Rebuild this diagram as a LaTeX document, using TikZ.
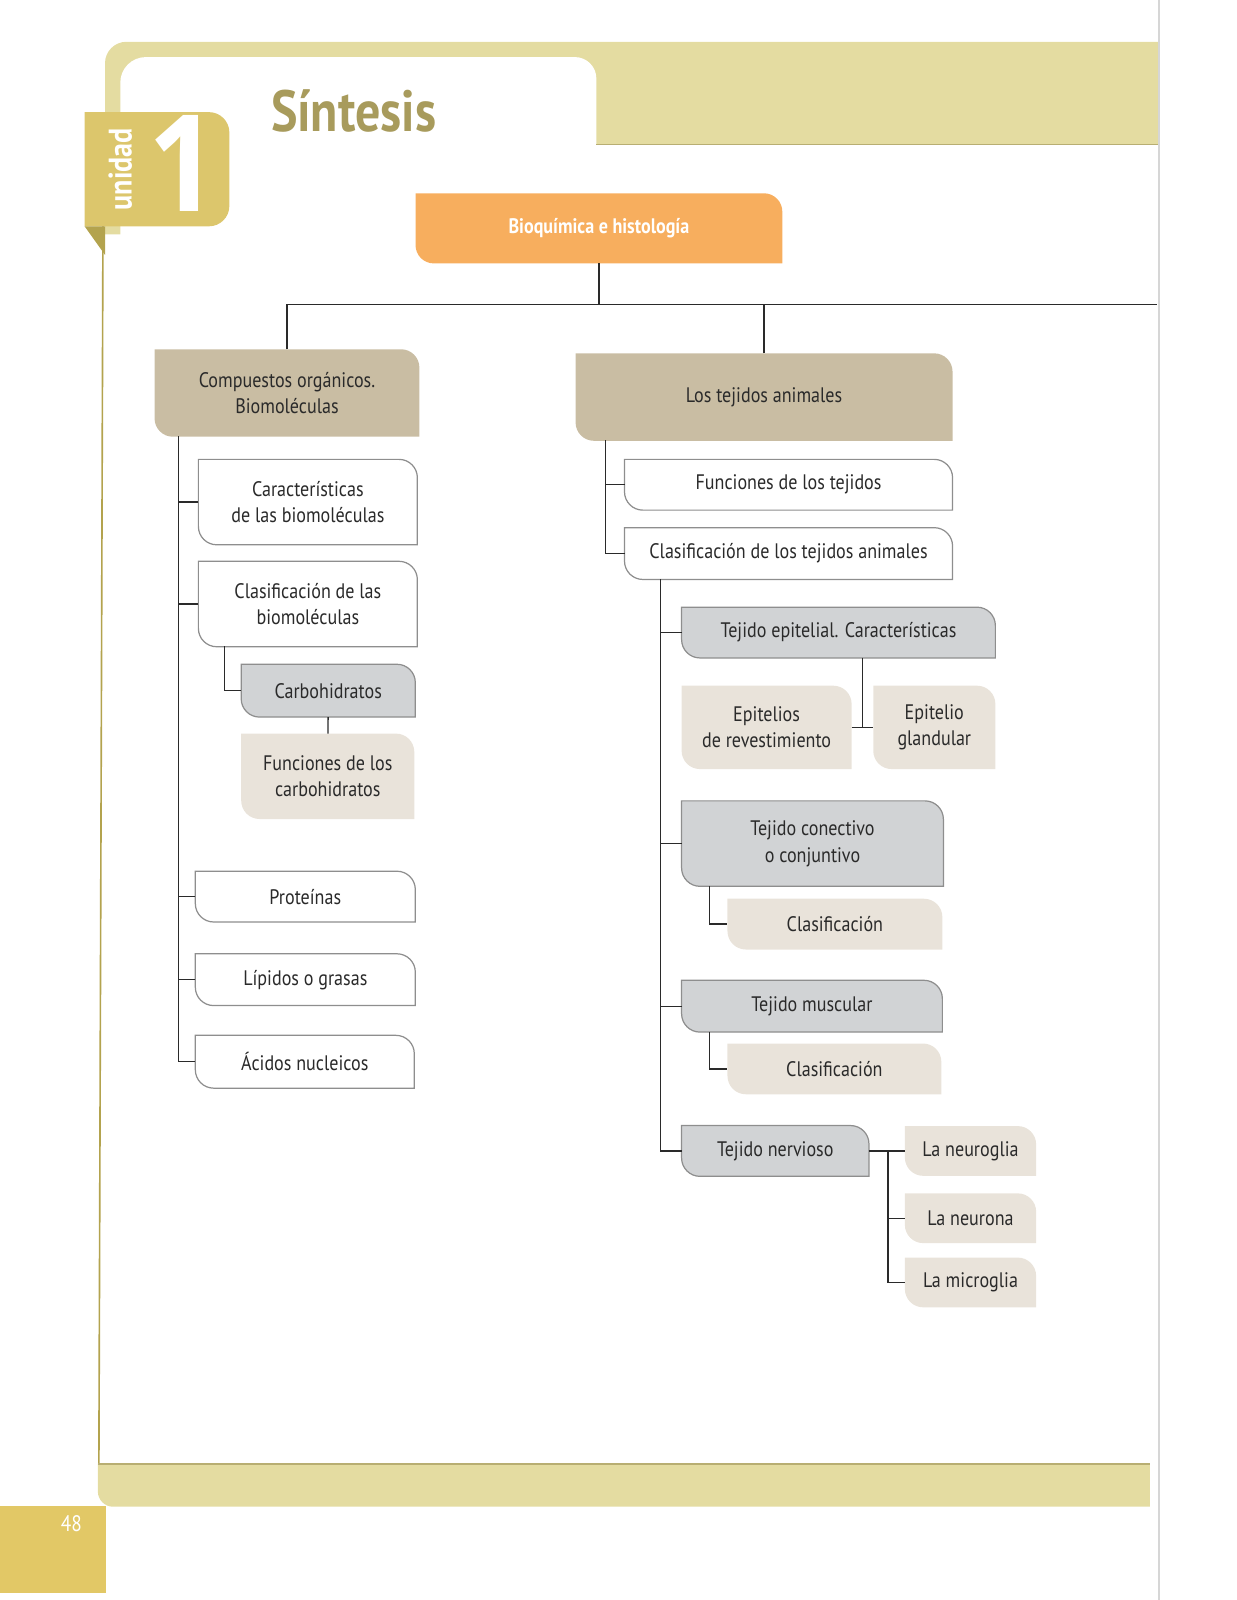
\documentclass[tikz,border=0pt]{standalone}
\usepackage{fontspec}
\setmainfont{PT Sans}[FakeStretch=0.86]
\newfontfamily\numfont{Open Sans}[FakeStretch=0.9]
\usetikzlibrary{backgrounds}

\definecolor{tanfill}{HTML}{C9BDA3}
\definecolor{greyfill}{HTML}{D1D3D5}
\definecolor{beigefill}{HTML}{E9E3DA}
\definecolor{orangefill}{HTML}{F7AE5E}
\definecolor{bandfill}{HTML}{E4DCA1}
\definecolor{bandline}{HTML}{B8AE72}
\definecolor{tabfill}{HTML}{DCC66C}
\definecolor{pagefill}{HTML}{E2C866}
\definecolor{olivetext}{HTML}{A89B5C}
\definecolor{olivedark}{HTML}{B3A34E}
\definecolor{inkgray}{HTML}{2A2A2A}
\definecolor{edgegray}{HTML}{8E8E8E}
\definecolor{pageedge}{HTML}{D6D6D6}

\tikzstyle{item} = [align=center, inner sep=0pt, text=inkgray, font=\fontsize{10.3}{13}\selectfont]
\tikzstyle{link} = [draw=inkgray, line width=0.65pt]
\tikzstyle{outline} = [draw=edgegray, line width=0.6pt]
\tikzset{leaf/.style={insert path={(#1.north west) -- ([xshift=-9pt]#1.north east) arc[start angle=90,end angle=0,radius=9pt] -- (#1.south east) -- ([xshift=9pt]#1.south west) arc[start angle=270,end angle=180,radius=9pt] -- cycle}}}

\begin{document}
\begin{tikzpicture}[x=0.5pt, y=-0.5pt]
	\useasboundingbox (0,0) rectangle (1212.5,1569.5);

	% page frame
	\fill[bandfill] (103,230) -- (103,62) arc[start angle=180,end angle=90,radius=10.5pt] -- (1137,41) -- (1137,142) -- (118,142) -- (118,230) -- cycle;
	\fill[white] (118,142) -- (118,81) arc[start angle=180,end angle=90,radius=12.5pt] -- (564,56) arc[start angle=90,end angle=0,radius=10.5pt] -- (585,142) -- cycle;
	\draw[bandline, line width=0.6pt] (585,142) -- (1137,142);
	\fill[tabfill] (83,110) -- (205,110) arc[start angle=90,end angle=0,radius=10pt] -- (225,202) arc[start angle=0,end angle=-90,radius=10pt] -- (83,222) -- cycle;
	\fill[olivedark] (83,222) -- (103,222) -- (103,250) -- cycle;
	\draw[olivedark, line width=0.8pt] (101,222) -- (97,1437);
	\fill[bandfill] (96,1436) -- (1128,1436) -- (1128,1478) -- (111,1478) arc[start angle=270,end angle=180,radius=7.5pt] -- cycle;
	\draw[bandline, line width=0.6pt] (96,1436) -- (1128,1436);
	\fill[pagefill] (0,1477) rectangle (104,1563);
	\draw[pageedge, line width=0.8pt] (1137,0) -- (1137,1569.5);

	\node[text=white, font=\bfseries\fontsize{16}{16}\selectfont, rotate=90] (unidad) at (118,166) {unidad};
	\node[text=white, font=\numfont\bfseries\fontsize{66}{66}\selectfont] (num) at (180,160) {1};
	\node[text=olivetext, font=\bfseries\fontsize{28.5}{28.5}\selectfont] (title) at (347,109) {Síntesis};
	\node[text=white, font=\fontsize{11}{11}\selectfont] (pagenum) at (70,1495) {48};

	% root
	\node[item, text=white, font=\bfseries\fontsize{10.3}{13}\selectfont, minimum width=179.5pt, minimum height=34pt] (root) at (587.5,224) {Bioquímica e histología};
	\coordinate (busend) at (1135,299);

	% left branch
	\node[item, minimum width=129.5pt, minimum height=42.5pt] (comp) at (281.5,385.5) {Compuestos orgánicos.\\Biomoléculas};
	\node[item, minimum width=107pt, minimum height=41.5pt] (carac) at (302,492.5) {Características\\de las biomoléculas};
	\node[item, minimum width=107pt, minimum height=41.5pt] (clasb) at (302,592.5) {Clasificación de las\\biomoléculas};
	\node[item, minimum width=85pt, minimum height=25.5pt] (carbo) at (322,677.5) {Carbohidratos};
	\node[item, minimum width=84.5pt, minimum height=41.5pt] (funcarb) at (321.5,761.5) {Funciones de los\\carbohidratos};
	\node[item, minimum width=107.5pt, minimum height=24.5pt] (prot) at (299.5,879.5) {Proteínas};
	\node[item, minimum width=107.5pt, minimum height=25pt] (lip) at (299.5,961) {Lípidos o grasas};
	\node[item, minimum width=107pt, minimum height=25.5pt] (acid) at (299,1041.5) {Ácidos nucleicos};

	% right branch
	\node[item, minimum width=184.5pt, minimum height=42.5pt] (tej) at (749.5,389.5) {Los tejidos animales};
	\node[item, minimum width=160.5pt, minimum height=24.5pt] (funtej) at (773.5,475.5) {Funciones de los tejidos};
	\node[item, minimum width=160.5pt, minimum height=25pt] (clastej) at (773.5,543) {Clasificación de los tejidos animales};
	\node[item, minimum width=153.5pt, minimum height=24.5pt] (epit) at (822.5,620.5) {Tejido epitelial. Características};
	\node[item, minimum width=83pt, minimum height=40.5pt] (revest) at (752,713.5) {Epitelios\\de revestimiento};
	\node[item, minimum width=59.5pt, minimum height=40.5pt] (glan) at (916.5,713.5) {Epitelio\\glandular};
	\node[item, minimum width=128pt, minimum height=41.5pt] (conect) at (797,827.5) {Tejido conectivo\\o conjuntivo};
	\node[item, minimum width=105pt, minimum height=24.5pt] (clasif1) at (819,906.5) {Clasificación};
	\node[item, minimum width=127.5pt, minimum height=25pt] (musc) at (796.5,987) {Tejido muscular};
	\node[item, minimum width=104.5pt, minimum height=24.5pt] (clasif2) at (818.5,1048.5) {Clasificación};
	\node[item, minimum width=91.5pt, minimum height=24.5pt] (nerv) at (760.5,1129) {Tejido nervioso};
	\node[item, minimum width=64pt, minimum height=24pt] (neuroglia) at (952,1129) {La neuroglia};
	\node[item, minimum width=64pt, minimum height=24pt] (neurona) at (952,1195) {La neurona};
	\node[item, minimum width=64pt, minimum height=24pt] (microglia) at (952,1258) {La microglia};

	% connectors
	\draw[link] (root.south) -- (root.south |- busend);
	\draw[link] (comp.north) |- (busend);
	\draw[link] (tej.north) -- (tej.north |- busend);

	\coordinate (ltrunk) at (175,428);
	\draw[link] (ltrunk) |- (acid.west);
	\foreach \n in {carac,clasb,prot,lip}
		\draw[link] (\n.west) -- (\n.west -| ltrunk);
	\coordinate (csplit) at (220,634);
	\draw[link] (csplit) |- (carbo.west);
	\draw[link] (carbo) -- (funcarb);

	\coordinate (rtrunk) at (594,432);
	\draw[link] (rtrunk) |- (clastej.west);
	\draw[link] (funtej.west) -- (funtej.west -| rtrunk);
	\coordinate (ctrunk) at (648,568);
	\draw[link] (ctrunk) |- (nerv.west);
	\foreach \n in {epit,conect,musc}
		\draw[link] (\n.west) -- (\n.west -| ctrunk);
	\coordinate (esplit) at (846,645);
	\draw[link] (esplit) -- (esplit |- revest.east);
	\draw[link] (revest) -- (glan);
	\coordinate (csub) at (696,869);
	\draw[link] (csub) |- (clasif1.west);
	\coordinate (msub) at (696,1012);
	\draw[link] (msub) |- (clasif2.west);
	\draw[link] (nerv.east) -- (neuroglia.west);
	\coordinate (nsplit) at (871,1129);
	\draw[link] (nsplit) |- (microglia.west);
	\draw[link] (nsplit |- neurona.west) -- (neurona.west);

	% box shapes
	\begin{scope}[on background layer]
		\fill[orangefill, leaf=root];
		\foreach \n in {comp,tej}
			\fill[tanfill, leaf=\n];
		\foreach \n in {carac,clasb,prot,lip,acid,funtej,clastej}
			\filldraw[fill=white, outline, leaf=\n];
		\foreach \n in {carbo,epit,conect,musc,nerv}
			\filldraw[fill=greyfill, outline, leaf=\n];
		\foreach \n in {funcarb,revest,glan,clasif1,clasif2,neuroglia,neurona,microglia}
			\fill[beigefill, leaf=\n];
	\end{scope}
\end{tikzpicture}
\end{document}
